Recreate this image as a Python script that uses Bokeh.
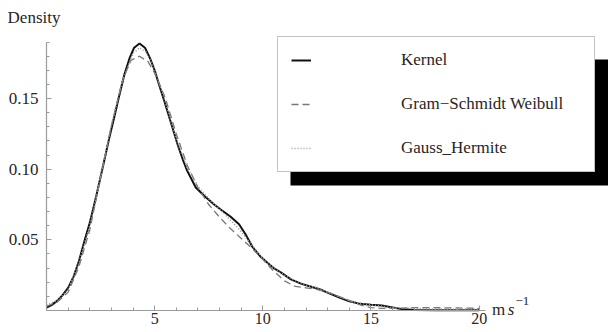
from bokeh.plotting import figure
from bokeh.models import (Range1d, FixedTicker, Legend, LegendItem, BoxAnnotation,
                          Label, NumeralTickFormatter)
from bokeh.embed import file_html
from bokeh.resources import INLINE

# ---- data ----
kernel_x = [0, 0.25, 0.5, 0.75, 1.0, 1.25, 1.5, 1.77, 2.0, 2.3, 2.58, 2.9, 3.12, 3.33, 3.6,
            3.85, 4.05, 4.3, 4.55, 4.8, 5.0, 5.2, 5.43, 5.75, 6.05, 6.3, 6.5, 6.9, 7.3, 7.75,
            8.1, 8.5, 8.9, 9.2, 9.52, 9.9, 10.2, 10.5, 10.83, 11.3, 11.76, 12.2, 12.69, 13.1,
            13.6, 14.0, 14.5, 15.0, 15.5, 16.0, 16.5, 17.0, 18.0, 19.0, 20.0]
kernel_y = [0.002, 0.004, 0.007, 0.011, 0.016, 0.024, 0.035, 0.050, 0.062, 0.081, 0.100,
            0.122, 0.136, 0.150, 0.167, 0.179, 0.186, 0.189, 0.186, 0.178, 0.170, 0.160,
            0.149, 0.133, 0.118, 0.107, 0.099, 0.087, 0.081, 0.075, 0.071, 0.0665, 0.061,
            0.054, 0.045, 0.038, 0.034, 0.030, 0.027, 0.022, 0.019, 0.017, 0.0147, 0.012,
            0.0088, 0.0065, 0.0047, 0.0040, 0.0035, 0.0022, 0.0008, 0.0003, 0.0002, 0.0002,
            0.0002]

gsw_x = [0, 0.5, 1.0, 1.5, 2.0, 2.5, 3.0, 3.5, 3.9, 4.3, 4.7, 5.0, 5.5, 6.0, 6.5, 7.0, 7.5,
         8.0, 8.5, 9.0, 9.5, 10.0, 10.5, 11.0, 11.5, 12.0, 12.5, 13.0, 13.5, 14.0, 14.5,
         15.0, 15.5, 16.0, 17.0, 18.0, 19.0, 20.0]
gsw_y = [0.003, 0.006, 0.013, 0.031, 0.057, 0.094, 0.131, 0.162, 0.177, 0.180, 0.176, 0.168,
         0.150, 0.125, 0.103, 0.087, 0.075, 0.066, 0.058, 0.051, 0.044, 0.036, 0.028, 0.021,
         0.017, 0.016, 0.015, 0.013, 0.010, 0.007, 0.004, 0.002, 0.0015, 0.0015, 0.002,
         0.002, 0.0018, 0.0015]

gh_x = [0, 0.5, 1.0, 1.5, 2.0, 2.5, 3.0, 3.5, 4.0, 4.3, 4.6, 5.0, 5.5, 6.0, 6.5, 7.0, 7.5,
        8.0, 8.5, 9.0, 9.5, 10.0, 10.5, 11.0, 11.5, 12.0, 12.5, 13.0, 13.5, 14.0, 14.5,
        15.0, 15.5, 16.0, 17.0, 18.0, 19.0, 20.0]
gh_y = [0.004, 0.007, 0.015, 0.034, 0.060, 0.095, 0.131, 0.162, 0.182, 0.186, 0.183, 0.171,
        0.147, 0.121, 0.101, 0.088, 0.079, 0.072, 0.064, 0.056, 0.046, 0.037, 0.030, 0.025,
        0.021, 0.018, 0.016, 0.013, 0.010, 0.007, 0.005, 0.004, 0.003, 0.002, 0.0015,
        0.001, 0.001, 0.001]

x_major = [5, 10, 15, 20]
x_minor = list(range(0, 21))
y_major = [0.05, 0.10, 0.15]
y_minor = [0.01 * i for i in range(1, 20)]
series_names = ["Kernel", "Gram\u2212Schmidt Weibull", "Gauss_Hermite"]

FONT = "Liberation Serif"
TXT = "#262626"
AX = "#9a9a9a"

p = figure(width=608, height=332, output_backend="svg", toolbar_location=None,
           x_range=Range1d(-2.127, 25.98), y_range=Range1d(-0.01557, 0.2194),
           min_border_left=0, min_border_right=0, min_border_top=0, min_border_bottom=0)
p.grid.visible = False
p.outline_line_color = None
p.background_fill_color = "white"
p.border_fill_color = "white"

for ax in (p.xaxis[0], p.yaxis[0]):
    ax.fixed_location = 0
    ax.axis_line_color = AX
    ax.axis_line_width = 1.2
    ax.major_tick_line_color = AX
    ax.minor_tick_line_color = AX
    ax.major_tick_in = 5
    ax.major_tick_out = 0
    ax.minor_tick_in = 3
    ax.minor_tick_out = 0
    ax.major_label_text_font = FONT
    ax.major_label_text_color = TXT

p.xaxis.major_label_text_font_size = "16px"
p.yaxis.major_label_text_font_size = "17px"
p.xaxis.bounds = (0, 20.3)
p.xaxis.ticker = FixedTicker(ticks=x_major, minor_ticks=x_minor)
p.xaxis.major_label_standoff = 2
p.yaxis.bounds = (0, 0.19)
p.yaxis.ticker = FixedTicker(ticks=y_major, minor_ticks=y_minor)
p.yaxis.formatter = NumeralTickFormatter(format="0.00")
p.yaxis.major_label_standoff = 8

# shadow of the legend box
shadow = BoxAnnotation(left=290, right=620, top=273, bottom=147,
                       left_units="screen", right_units="screen",
                       top_units="screen", bottom_units="screen",
                       fill_color="black", fill_alpha=1.0, line_color=None)
p.add_layout(shadow)

r1 = p.line(kernel_x, kernel_y, line_color="#111111", line_width=2)
r2 = p.line(gsw_x, gsw_y, line_color="#777777", line_width=1.3, line_dash="7 4")
r3 = p.line(gh_x, gh_y, line_color="#999999", line_width=1.6, line_dash="1 2")

legend = Legend(items=[LegendItem(label=series_names[0], renderers=[r1]),
                       LegendItem(label=series_names[1], renderers=[r2]),
                       LegendItem(label=series_names[2], renderers=[r3])],
                location=(277, 160), orientation="vertical",
                padding=13, spacing=24, margin=0,
                glyph_width=20, glyph_height=20, label_height=20, label_width=180,
                label_standoff=90,
                label_text_font=FONT, label_text_font_size="17px", label_text_color=TXT,
                border_line_color="#888888", border_line_width=1,
                background_fill_color="white", background_fill_alpha=1.0)
p.add_layout(legend)

p.add_layout(Label(x=-1.80, y=0.2074, text="Density", text_font=FONT,
                   text_font_size="17px", text_color=TXT, text_baseline="middle",
                   text_align="left"))
p.add_layout(Label(x=20.6, y=0.0005, text="m", text_font=FONT,
                   text_font_size="17px", text_color=TXT, text_baseline="middle",
                   text_align="left"))
p.add_layout(Label(x=21.32, y=0.0005, text="s", text_font=FONT, text_font_style="italic",
                   text_font_size="17px", text_color=TXT, text_baseline="middle",
                   text_align="left"))
p.add_layout(Label(x=21.68, y=0.0065, text="\u22121", text_font=FONT,
                   text_font_size="13px", text_color=TXT, text_baseline="middle",
                   text_align="left"))

open("out.html", "w").write(file_html(p, INLINE))
